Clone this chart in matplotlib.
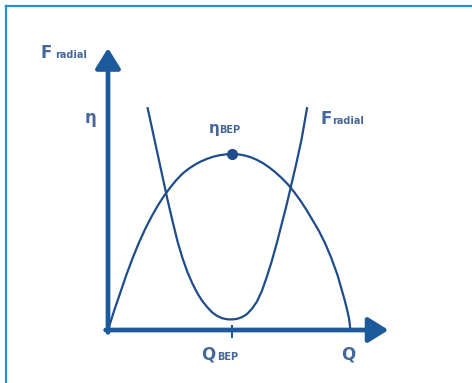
import matplotlib.pyplot as plt
from matplotlib.lines import Line2D

# ---------- data (arbitrary units: Q_BEP = 1, eta_BEP = 1) ----------
q_eta = [0.00, 0.05, 0.10, 0.15, 0.20, 0.25, 0.30, 0.35, 0.40, 0.45, 0.50, 0.55,
         0.60, 0.65, 0.70, 0.75, 0.80, 0.85, 0.90, 0.95, 1.00, 1.05, 1.10, 1.15,
         1.20, 1.25, 1.30, 1.35, 1.40, 1.45, 1.50, 1.55, 1.60, 1.65, 1.70, 1.75,
         1.80, 1.85, 1.88, 1.91, 1.93, 1.945, 1.955]
eta = [0.000, 0.111, 0.214, 0.317, 0.411, 0.497, 0.574, 0.643, 0.705, 0.760, 0.808, 0.851,
       0.888, 0.916, 0.939, 0.958, 0.973, 0.985, 0.993, 0.998, 1.000, 0.998, 0.992, 0.982,
       0.967, 0.948, 0.924, 0.896, 0.864, 0.828, 0.785, 0.737, 0.683, 0.624, 0.564, 0.494,
       0.411, 0.314, 0.241, 0.166, 0.110, 0.060, 0.000]

q_f = [0.32, 0.36, 0.40, 0.44, 0.48, 0.52, 0.56, 0.60, 0.64, 0.68, 0.72, 0.76,
       0.80, 0.84, 0.88, 0.92, 0.96, 1.00, 1.04, 1.08, 1.12, 1.16, 1.20, 1.24,
       1.28, 1.32, 1.36, 1.40, 1.44, 1.48, 1.52, 1.56, 1.605]
f_radial = [1.26, 1.13, 1.00, 0.87, 0.74, 0.62, 0.505, 0.41, 0.33, 0.265, 0.21, 0.165,
            0.13, 0.10, 0.08, 0.067, 0.061, 0.06, 0.063, 0.073, 0.09, 0.12, 0.16, 0.22,
            0.30, 0.39, 0.49, 0.60, 0.71, 0.83, 0.95, 1.08, 1.26]

q_bep = 1.0
eta_bep = 1.0

# ---------- stijl ----------
W, H = 472, 383
ORIGIN = (108, 330)      # pixelpositie van de oorsprong
SX, SY = 124, 176        # pixels per eenheid
AXIS_COLOR = "#1d5a9c"
CURVE_COLOR = "#1f4c8a"
TEXT_COLOR = "#46679a"
FRAME_COLOR = "#2b8fd8"
AXIS_LW = 3.4            # punten
half_lw = AXIS_LW / 72 * 100 / 2   # halve lijndikte in pixels

fig = plt.figure(figsize=(W / 100, H / 100), dpi=100)
ax = fig.add_axes([0, 0, 1, 1])
ax.set_xlim(-ORIGIN[0] / SX, (W - ORIGIN[0]) / SX)
ax.set_ylim(-(H - ORIGIN[1]) / SY, ORIGIN[1] / SY)
ax.axis("off")

# kader (alleen boven en links)
fig.add_artist(Line2D([5.5 / W, 1], [1 - 5.5 / H, 1 - 5.5 / H],
                      transform=fig.transFigure, color=FRAME_COLOR, lw=1.6))
fig.add_artist(Line2D([5.5 / W, 5.5 / W], [0, 1 - 5.5 / H],
                      transform=fig.transFigure, color=FRAME_COLOR, lw=1.6))

# assen met pijlpunten
arrow = dict(arrowstyle="-|>,head_length=12.2,head_width=7.6", mutation_scale=1,
             lw=AXIS_LW, color=AXIS_COLOR, shrinkA=0, shrinkB=0)
ax.annotate("", xy=(0, 1.602), xytext=(0, -half_lw / SY), arrowprops=arrow)
ax.annotate("", xy=(2.262, 0), xytext=(-half_lw / SX, 0), arrowprops=arrow)

# tick bij Q_BEP
ax.plot([q_bep, q_bep], [0.028, -0.045], color=AXIS_COLOR, lw=1.5, solid_capstyle="butt")

# curves
ax.plot(q_eta, eta, color=CURVE_COLOR, lw=1.6, solid_joinstyle="round",
        solid_capstyle="butt")
ax.plot(q_f, f_radial, color=CURVE_COLOR, lw=1.6, solid_joinstyle="round")
ax.plot([q_bep], [eta_bep], "o", color=CURVE_COLOR, ms=7)


def label(x, y, tekst, size=11.5, weight="normal"):
    # x, y in pixels vanaf linksboven, y = basislijn
    fig.text(x / W, 1 - y / H, tekst, ha="left", va="baseline", fontsize=size,
             color=TEXT_COLOR, fontweight=weight, family="DejaVu Sans")


SUB = 7
label(41, 58.5, "F", 12, "bold")
label(55.5, 58.5, "radial", SUB, "bold")
label(84.5, 123, "η", 12, "bold")
label(209, 133, "η", 11, "bold")
label(219.5, 133, "BEP", SUB, "bold")
label(321, 124, "F", 12, "bold")
label(332, 124, "radial", SUB, "bold")
label(201, 360, "Q", 12, "bold")
label(217.5, 360, "BEP", SUB, "bold")
label(341, 360, "Q", 12, "bold")

fig.savefig("out.png", dpi=100)
